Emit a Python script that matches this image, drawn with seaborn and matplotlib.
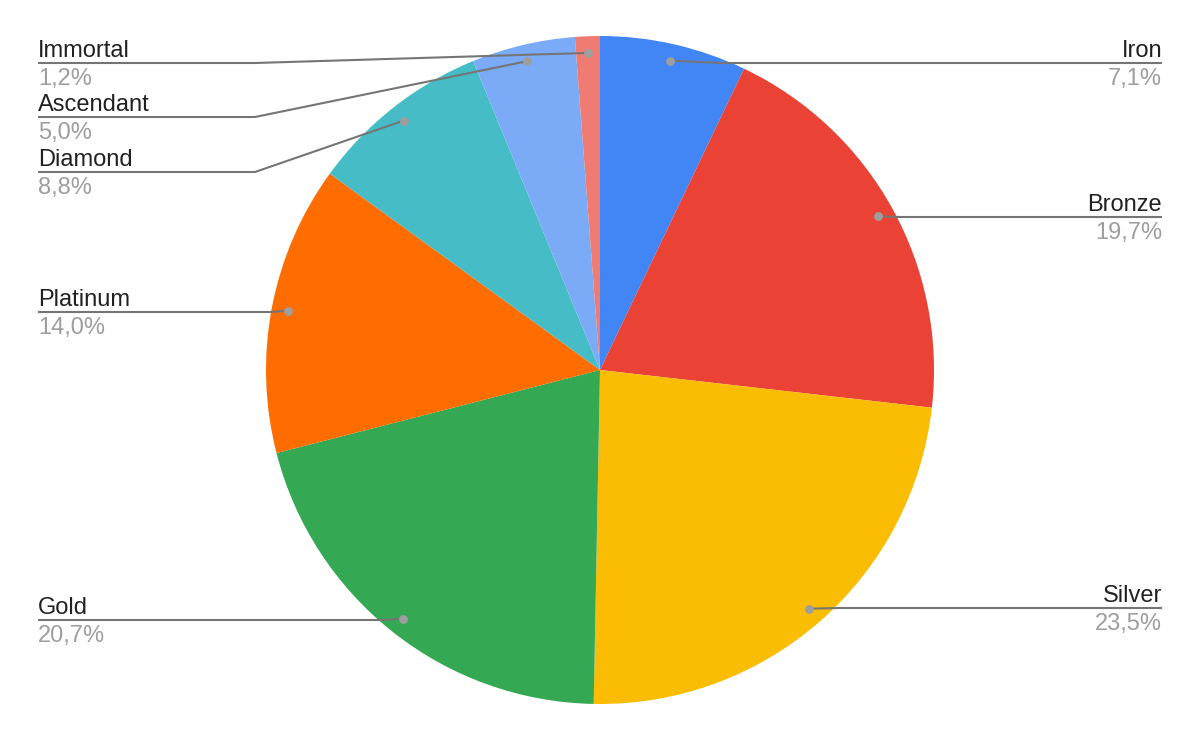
import numpy as np
import matplotlib
matplotlib.use("Agg")
import matplotlib.pyplot as plt
import seaborn as sns

ranks = ["Iron", "Bronze", "Silver", "Gold", "Platinum", "Diamond", "Ascendant", "Immortal"]
shares = [7.1, 19.7, 23.5, 20.7, 14.0, 8.8, 5.0, 1.2]
pct_labels = ["7,1%", "19,7%", "23,5%", "20,7%", "14,0%", "8,8%", "5,0%", "1,2%"]
colors = ["#4285F4", "#EA4335", "#FBBC04", "#34A853", "#FF6D01", "#46BDC6", "#7BAAF7", "#F07B72"]

sns.set_theme(style="white")
plt.rcParams['font.family'] = ['Liberation Sans', 'DejaVu Sans']

W, H = 1200, 742
fig = plt.figure(figsize=(12, 7.42), dpi=100)
ax = fig.add_axes([0, 0, 1, 1])

# pie geometry in pixel units (y up)
cx, cy, R = 600, H - 370, 334
ax.pie(shares, colors=colors, startangle=90, counterclock=False,
       center=(cx, cy), radius=R, wedgeprops=dict(linewidth=0))
ax.set_xlim(0, W)
ax.set_ylim(0, H)
ax.set_aspect('equal')
ax.axis('off')

# label layout (pixel rows from top of image)
side = ["right", "right", "right", "left", "left", "left", "left", "left"]
line_y = [63, 217, 608, 620, 312, 172, 117, 63]
elbow_x = [720, 900, 840, 380, 270, 255, 255, 255]
left_x, right_x = 38, 1162

cum = np.cumsum([0] + shares[:-1])
for i, name in enumerate(ranks):
    frac = (cum[i] + shares[i] / 2) / sum(shares)
    ang = np.deg2rad(90 - 360 * frac)
    dx, dy = cx + 0.95 * R * np.cos(ang), cy + 0.95 * R * np.sin(ang)
    ly = H - line_y[i]
    ex = right_x if side[i] == "right" else left_x
    ax.plot([dx, elbow_x[i], ex], [dy, ly, ly], color="#757575", lw=1.5,
            solid_capstyle="butt", zorder=3)
    ax.scatter([dx], [dy], s=40, color="#9E9E9E", zorder=4, linewidths=0)
    ha = "right" if side[i] == "right" else "left"
    ax.text(ex, ly + 6, name, ha=ha, va="baseline", fontsize=17, color="#212121")
    ax.text(ex, ly - 22, pct_labels[i], ha=ha, va="baseline", fontsize=17, color="#9E9E9E")

fig.savefig("out.png", dpi=100, facecolor="white")
